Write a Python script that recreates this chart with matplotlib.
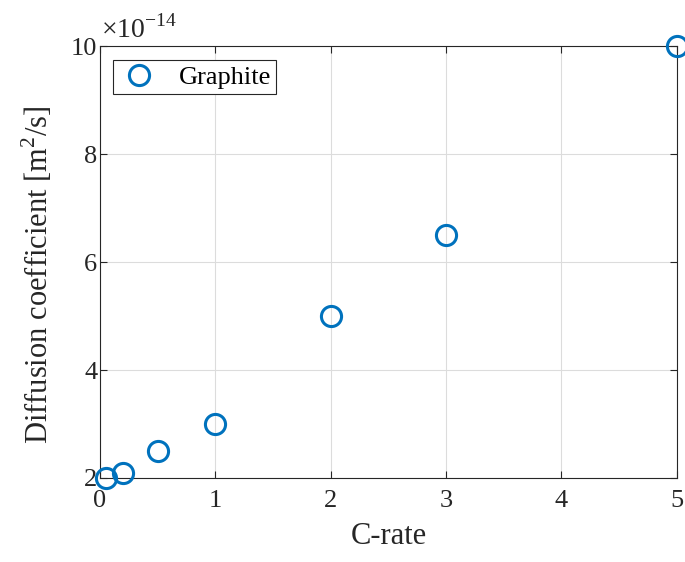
import matplotlib.pyplot as plt
import numpy as np

plt.rcParams['font.family'] = ['Liberation Serif', 'DejaVu Serif']
plt.rcParams['mathtext.fontset'] = 'custom'
plt.rcParams['mathtext.rm'] = 'Liberation Serif'

c_rate = [0.05, 0.2, 0.5, 1, 2, 3, 5]
diff_coef = [2.0, 2.1, 2.5, 3.0, 5.0, 6.5, 10.0]   # in units of 1e-14 m^2/s
x_ticks = [0, 1, 2, 3, 4, 5]
y_ticks = [2, 4, 6, 8, 10]

c_blue = "#0072BD"

fig = plt.figure(figsize=(6.85, 5.62), dpi=100)
ax = fig.add_axes([0.146, 0.1495, 0.842, 0.7685])

ax.plot(c_rate, diff_coef, linestyle="none", marker="o", markersize=14.5,
        markerfacecolor="none", markeredgecolor=c_blue, markeredgewidth=2.2,
        label="Graphite", clip_on=False, zorder=5)

ax.set_xlim(0, 5)
ax.set_ylim(2, 10)
ax.set_xticks(x_ticks)
ax.set_yticks(y_ticks)
ax.grid(True, color="#dcdcdc", linewidth=0.8)
ax.set_axisbelow(True)
ax.tick_params(direction="in", top=True, right=True, labelsize=19, length=5,
               width=0.8, color="#262626", labelcolor="#262626")
ax.tick_params(axis="x", pad=9)
ax.tick_params(axis="y", pad=2)
for s in ax.spines.values():
    s.set_color("#262626")
    s.set_linewidth(0.8)

ax.set_xlabel("C-rate", fontsize=22, color="#262626", labelpad=7)
ax.set_ylabel("Diffusion coefficient [m$^2$/s]", fontsize=22, color="#262626")
ax.yaxis.set_label_coords(-0.078, 0.47)

ax.text(0.002, 1.005, r"$\times$10$^{\mathregular{-14}}$", transform=ax.transAxes,
        fontsize=20, color="#262626", ha="left", va="bottom")

leg = ax.legend(loc="upper left", fontsize=19, fancybox=False, framealpha=1,
                edgecolor="#262626", borderpad=0.2, handletextpad=0.7,
                handlelength=1.6, borderaxespad=0, bbox_to_anchor=(0.022, 0.967))
leg.get_frame().set_linewidth(0.8)

fig.savefig("out.png", dpi=100)
